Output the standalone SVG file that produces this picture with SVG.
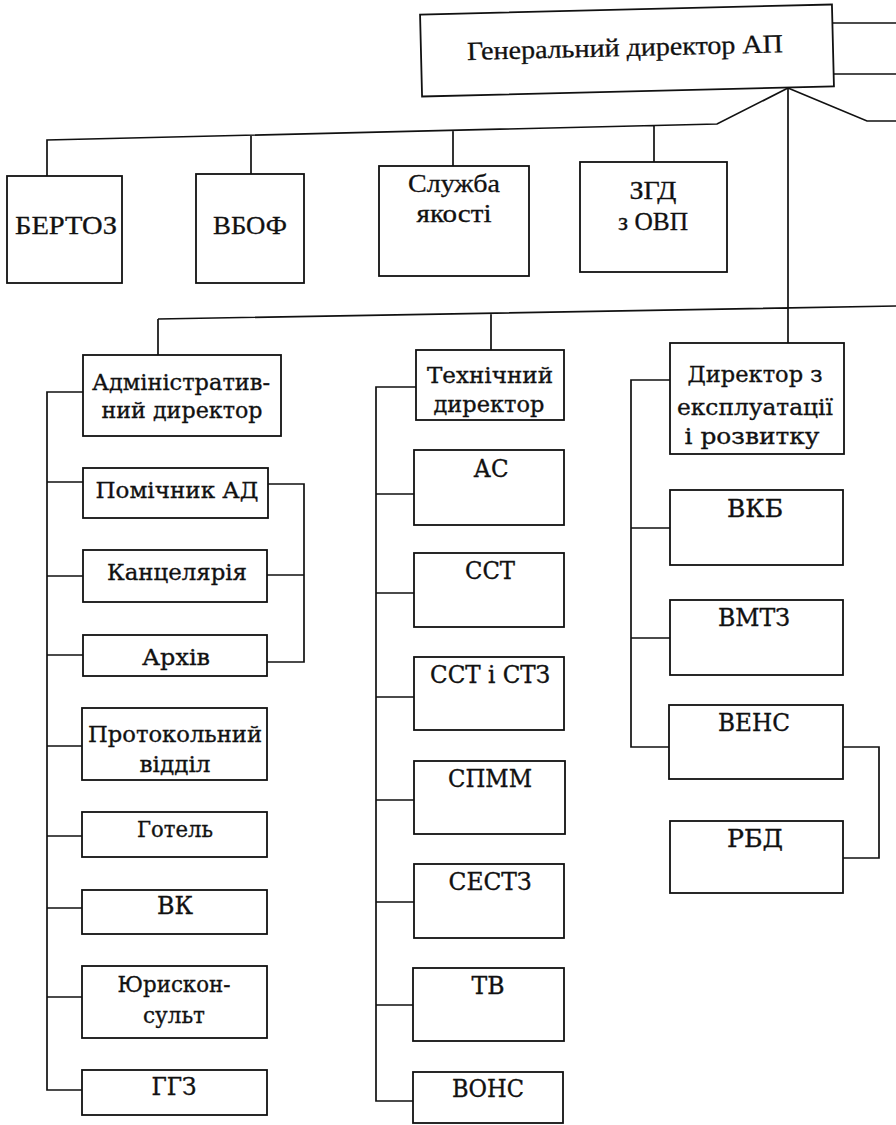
<svg xmlns="http://www.w3.org/2000/svg" width="896" height="1125" viewBox="0 0 896 1125">
<style>
.box{fill:#fff;stroke:#111;stroke-width:1.8}
.ln{fill:none;stroke:#111;stroke-width:1.7;stroke-linejoin:miter}
text{font-family:"DejaVu Serif","Liberation Serif",serif;font-size:23px;fill:#111;stroke:#111;stroke-width:0.35;text-anchor:middle}
text.tm{font-family:"Liberation Serif","DejaVu Serif",serif;font-size:26px;stroke-width:0.3}
text.cp{font-size:24px}
</style>
<rect width="896" height="1125" fill="#fff"/>
<g id="connectors">
<path class="ln" d="M833,23 H896 M833,74 H896 M788,88 L867,121 H896"/>
<path class="ln" d="M788,88 L717,124 L47,140 V176 M251,135 V174 M453,130 V166 M654,125.5 V162"/>
<path class="ln" d="M788,88 V343 M158,319 L896,306 M158,319 V355 M491,313 V350"/>
<path class="ln" d="M83,392 H47 V1090 H82 M47,482 H83 M47,576 H83 M47,655 H83 M47,746 H82 M47,836 H82 M47,908 H82 M47,997 H82"/>
<path class="ln" d="M268,484 H304 V662 H267 M267,575 H304"/>
<path class="ln" d="M416,387 H376 V1101 H413 M376,494 H414 M376,593 H414 M376,697 H414 M376,800 H414 M376,902 H414 M376,1005 H413"/>
<path class="ln" d="M670,380 H631 V747 H669 M631,528 H670 M631,638 H670"/>
<path class="ln" d="M843,747 H879 V858 H843"/>
</g>
<g id="gen" transform="rotate(-1.4 627 50.5)">
<rect class="box" x="421" y="9.5" width="412" height="82"/>
<text class="tm" x="625" y="56" textLength="316" lengthAdjust="spacingAndGlyphs">Генеральний директор АП</text>
</g>
<g id="bertoz"><rect class="box" x="7" y="176" width="115" height="107"/><text class="tm" x="66" y="234" textLength="102" lengthAdjust="spacingAndGlyphs">БЕРТОЗ</text></g>
<g id="vbof"><rect class="box" x="196" y="174" width="108" height="109"/><text class="tm" x="250" y="234" textLength="74" lengthAdjust="spacingAndGlyphs">ВБОФ</text></g>
<g id="yakist"><rect class="box" x="379" y="166" width="150" height="110"/><text class="tm" x="454" y="192" textLength="92" lengthAdjust="spacingAndGlyphs">Служба</text><text class="tm" x="454" y="222" textLength="75" lengthAdjust="spacingAndGlyphs">якості</text></g>
<g id="zgd"><rect class="box" x="580" y="162" width="147" height="110"/><text class="tm" x="653" y="199" textLength="47" lengthAdjust="spacingAndGlyphs">ЗГД</text><text class="tm" x="653" y="230" textLength="70" lengthAdjust="spacingAndGlyphs">з ОВП</text></g>
<g id="admin"><rect class="box" x="83" y="355" width="198" height="81"/><text x="181" y="390" textLength="178" lengthAdjust="spacingAndGlyphs">Адміністратив-</text><text x="182" y="418" textLength="161" lengthAdjust="spacingAndGlyphs">ний директор</text></g>
<g id="pomichnyk"><rect class="box" x="83" y="468" width="185" height="50"/><text x="177" y="498" textLength="163" lengthAdjust="spacingAndGlyphs">Помічник АД</text></g>
<g id="kantselyariya"><rect class="box" x="83" y="550" width="184" height="52"/><text x="177" y="580" textLength="140" lengthAdjust="spacingAndGlyphs">Канцелярія</text></g>
<g id="arkhiv"><rect class="box" x="83" y="635" width="184" height="41"/><text x="176" y="665" textLength="68" lengthAdjust="spacingAndGlyphs">Архів</text></g>
<g id="protokol"><rect class="box" x="82" y="708" width="185" height="72"/><text x="175" y="742" textLength="174" lengthAdjust="spacingAndGlyphs">Протокольний</text><text x="175" y="772" textLength="71" lengthAdjust="spacingAndGlyphs">відділ</text></g>
<g id="hotel"><rect class="box" x="82" y="812" width="185" height="45"/><text x="175" y="837" textLength="76" lengthAdjust="spacingAndGlyphs">Готель</text></g>
<g id="vk"><rect class="box" x="82" y="890" width="185" height="44"/><text class="cp" x="175" y="914" textLength="36" lengthAdjust="spacingAndGlyphs">ВК</text></g>
<g id="yuryst"><rect class="box" x="82" y="966" width="185" height="72"/><text x="174" y="992" textLength="113" lengthAdjust="spacingAndGlyphs">Юрискон-</text><text x="174" y="1023" textLength="62" lengthAdjust="spacingAndGlyphs">сульт</text></g>
<g id="ggz"><rect class="box" x="82" y="1070" width="185" height="45"/><text class="cp" x="174" y="1095" textLength="45" lengthAdjust="spacingAndGlyphs">ГГЗ</text></g>
<g id="tekh"><rect class="box" x="416" y="350" width="148" height="70"/><text x="490" y="383" textLength="126" lengthAdjust="spacingAndGlyphs">Технічний</text><text x="489" y="412" textLength="111" lengthAdjust="spacingAndGlyphs">директор</text></g>
<g id="as"><rect class="box" x="414" y="450" width="150" height="75"/><text class="cp" x="491" y="477" textLength="35" lengthAdjust="spacingAndGlyphs">АС</text></g>
<g id="sst"><rect class="box" x="414" y="553" width="150" height="74"/><text class="cp" x="490" y="579" textLength="50" lengthAdjust="spacingAndGlyphs">ССТ</text></g>
<g id="sst-stz"><rect class="box" x="414" y="657" width="150" height="73"/><text class="cp" x="490" y="683" textLength="120" lengthAdjust="spacingAndGlyphs">ССТ і СТЗ</text></g>
<g id="spmm"><rect class="box" x="414" y="761" width="151" height="73"/><text class="cp" x="490" y="787" textLength="84" lengthAdjust="spacingAndGlyphs">СПММ</text></g>
<g id="sestz"><rect class="box" x="414" y="864" width="150" height="74"/><text class="cp" x="490" y="890" textLength="83" lengthAdjust="spacingAndGlyphs">СЕСТЗ</text></g>
<g id="tv"><rect class="box" x="413" y="968" width="151" height="73"/><text class="cp" x="488" y="994" textLength="33" lengthAdjust="spacingAndGlyphs">ТВ</text></g>
<g id="vons"><rect class="box" x="413" y="1072" width="150" height="51"/><text class="cp" x="488" y="1097" textLength="72" lengthAdjust="spacingAndGlyphs">ВОНС</text></g>
<g id="dyrektor-er"><rect class="box" x="670" y="343" width="174" height="111"/><text x="755" y="382" textLength="135" lengthAdjust="spacingAndGlyphs">Директор з</text><text x="755" y="415" textLength="156" lengthAdjust="spacingAndGlyphs">експлуатації</text><text x="752" y="444" textLength="135" lengthAdjust="spacingAndGlyphs">і розвитку</text></g>
<g id="vkb"><rect class="box" x="670" y="490" width="173" height="75"/><text class="cp" x="755" y="517" textLength="56" lengthAdjust="spacingAndGlyphs">ВКБ</text></g>
<g id="vmtz"><rect class="box" x="670" y="600" width="173" height="75"/><text class="cp" x="754" y="626" textLength="72" lengthAdjust="spacingAndGlyphs">ВМТЗ</text></g>
<g id="vens"><rect class="box" x="669" y="705" width="174" height="74"/><text class="cp" x="754" y="731" textLength="72" lengthAdjust="spacingAndGlyphs">ВЕНС</text></g>
<g id="rbd"><rect class="box" x="670" y="821" width="173" height="72"/><text class="cp" x="755" y="847" textLength="56" lengthAdjust="spacingAndGlyphs">РБД</text></g>
</svg>
